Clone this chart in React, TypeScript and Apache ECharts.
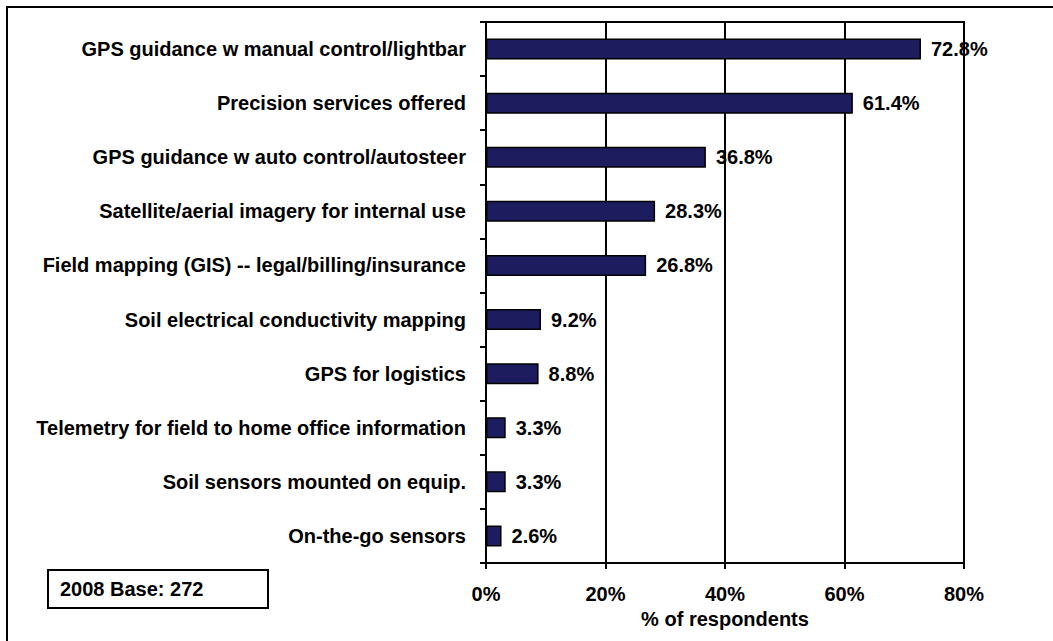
import React, { useEffect, useRef } from "react";
import * as echarts from "echarts";

const categories = [
  "GPS guidance w manual control/lightbar",
  "Precision services offered",
  "GPS guidance w auto control/autosteer",
  "Satellite/aerial imagery for internal use",
  "Field mapping (GIS) -- legal/billing/insurance",
  "Soil electrical conductivity mapping",
  "GPS for logistics",
  "Telemetry for field to home office information",
  "Soil sensors mounted on equip.",
  "On-the-go sensors",
];
const values = [72.8, 61.4, 36.8, 28.3, 26.8, 9.2, 8.8, 3.3, 3.3, 2.6];
const xTicks = [0, 20, 40, 60, 80];
const axisTitle = "% of respondents";
const baseNote = "2008 Base: 272";

const FONT = "'Liberation Sans', Arial, sans-serif";

export default function App() {
  const ref = useRef<HTMLDivElement>(null);
  useEffect(() => {
    if (!ref.current) return;
    const chart = echarts.init(ref.current, null, { renderer: "svg" });
    chart.setOption({
      animation: false,
      backgroundColor: "#ffffff",
      textStyle: { fontFamily: FONT },
      grid: {
        left: 486,
        right: 89,
        top: 22,
        bottom: 78,
        show: true,
        borderColor: "#000",
        borderWidth: 2,
        backgroundColor: "transparent",
      },
      xAxis: {
        type: "value",
        min: xTicks[0],
        max: xTicks[xTicks.length - 1],
        interval: 20,
        name: axisTitle,
        nameLocation: "middle",
        nameGap: 46,
        nameTextStyle: { fontFamily: FONT, fontWeight: "bold", fontSize: 20, color: "#000" },
        axisLine: { show: true, lineStyle: { color: "#000", width: 2 } },
        axisTick: { show: true, length: 6, lineStyle: { color: "#000", width: 2 } },
        axisLabel: {
          formatter: "{value}%",
          fontFamily: FONT,
          fontWeight: "bold",
          fontSize: 20,
          color: "#000",
          margin: 21,
        },
        splitLine: { show: true, lineStyle: { color: "#000", width: 2 } },
      },
      yAxis: {
        type: "category",
        data: categories,
        inverse: true,
        axisLine: { show: true, lineStyle: { color: "#000", width: 2 } },
        axisTick: { show: true, length: 6, lineStyle: { color: "#000", width: 2 } },
        axisLabel: {
          fontFamily: FONT,
          fontWeight: "bold",
          fontSize: 20,
          color: "#000",
          margin: 20,
        },
      },
      series: [
        {
          type: "bar",
          data: values,
          barWidth: 21,
          itemStyle: { color: "#1c1c5e", borderColor: "#000", borderWidth: 1.5 },
          label: {
            show: true,
            position: "right",
            distance: 10,
            formatter: (p: any) => `${p.value.toFixed(1)}%`,
            fontFamily: FONT,
            fontWeight: "bold",
            fontSize: 20,
            color: "#000",
          },
        },
      ],
      graphic: [
        {
          type: "rect",
          shape: { x: 7, y: 7, width: 1100, height: 700 },
          style: { fill: "none", stroke: "#000", lineWidth: 2 },
          silent: true,
        },
        {
          type: "rect",
          shape: { x: 48, y: 570, width: 220, height: 38 },
          style: { fill: "#fff", stroke: "#000", lineWidth: 2 },
        },
        {
          type: "text",
          x: 60,
          y: 589,
          style: {
            text: baseNote,
            fontFamily: FONT,
            fontWeight: "bold",
            fontSize: 20,
            fill: "#000",
            verticalAlign: "middle",
          },
        },
      ],
    });
    return () => chart.dispose();
  }, []);
  return (
    <div
      ref={ref}
      style={{ position: "absolute", left: 0, top: 0, width: 1053, height: 641 }}
    />
  );
}
